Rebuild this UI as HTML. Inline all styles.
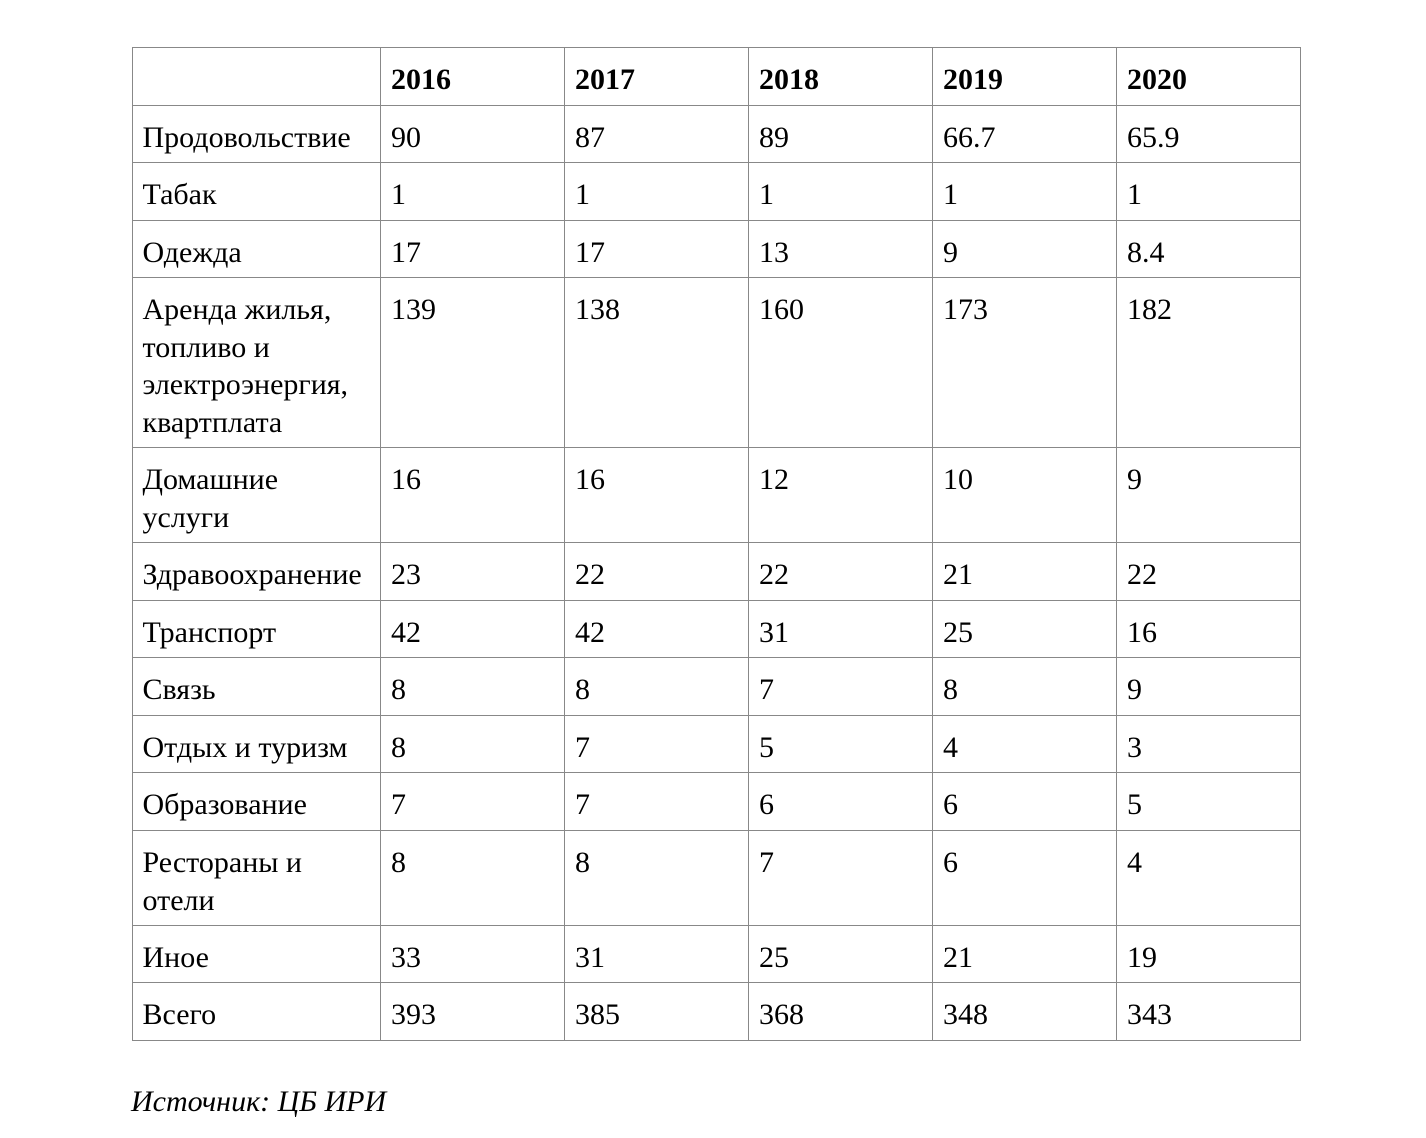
<!DOCTYPE html>
<html>
<head>
<meta charset="utf-8">
<style>
  html, body { margin:0; padding:0; background:#fff; }
  body { width:1426px; height:1138px; position:relative; overflow:hidden;
         font-family:"Liberation Serif","Noto Serif CJK SC",serif; color:#000; }
  .h { position:absolute; height:1px; background:#888; left:132px; width:1169px; }
  .v { position:absolute; width:1px; background:#888; top:47px; height:994px; }
  .t { position:absolute; font-size:30px; line-height:37.7px; white-space:nowrap; margin-top:2px; }
  .b { font-weight:bold; }
  .cap { position:absolute; left:131px; top:1083px; font-size:30px; line-height:37.7px; font-style:italic; white-space:nowrap; }
</style>
</head>
<body>
<!-- horizontal lines -->
<div class="h" style="top:47px"></div>
<div class="h" style="top:105px"></div>
<div class="h" style="top:162px"></div>
<div class="h" style="top:220px"></div>
<div class="h" style="top:277px"></div>
<div class="h" style="top:447px"></div>
<div class="h" style="top:542px"></div>
<div class="h" style="top:600px"></div>
<div class="h" style="top:657px"></div>
<div class="h" style="top:715px"></div>
<div class="h" style="top:772px"></div>
<div class="h" style="top:830px"></div>
<div class="h" style="top:925px"></div>
<div class="h" style="top:982px"></div>
<div class="h" style="top:1040px"></div>
<!-- vertical lines -->
<div class="v" style="left:132px"></div>
<div class="v" style="left:380px"></div>
<div class="v" style="left:564px"></div>
<div class="v" style="left:748px"></div>
<div class="v" style="left:932px"></div>
<div class="v" style="left:1116px"></div>
<div class="v" style="left:1300px"></div>

<!-- header -->
<div class="t b" style="left:391px;top:59px">2016</div>
<div class="t b" style="left:575px;top:59px">2017</div>
<div class="t b" style="left:759px;top:59px">2018</div>
<div class="t b" style="left:943px;top:59px">2019</div>
<div class="t b" style="left:1127px;top:59px">2020</div>

<!-- row 1 -->
<div class="t" style="left:142.5px;top:117px">Продовольствие</div>
<div class="t" style="left:391px;top:117px">90</div>
<div class="t" style="left:575px;top:117px">87</div>
<div class="t" style="left:759px;top:117px">89</div>
<div class="t" style="left:943px;top:117px">66.7</div>
<div class="t" style="left:1127px;top:117px">65.9</div>

<!-- row 2 -->
<div class="t" style="left:142.5px;top:174px">Табак</div>
<div class="t" style="left:391px;top:174px">1</div>
<div class="t" style="left:575px;top:174px">1</div>
<div class="t" style="left:759px;top:174px">1</div>
<div class="t" style="left:943px;top:174px">1</div>
<div class="t" style="left:1127px;top:174px">1</div>

<!-- row 3 -->
<div class="t" style="left:142.5px;top:232px">Одежда</div>
<div class="t" style="left:391px;top:232px">17</div>
<div class="t" style="left:575px;top:232px">17</div>
<div class="t" style="left:759px;top:232px">13</div>
<div class="t" style="left:943px;top:232px">9</div>
<div class="t" style="left:1127px;top:232px">8.4</div>

<!-- row 4 -->
<div class="t" style="left:142.5px;top:289px">Аренда жилья,<br>топливо и<br>электроэнергия,<br>квартплата</div>
<div class="t" style="left:391px;top:289px">139</div>
<div class="t" style="left:575px;top:289px">138</div>
<div class="t" style="left:759px;top:289px">160</div>
<div class="t" style="left:943px;top:289px">173</div>
<div class="t" style="left:1127px;top:289px">182</div>

<!-- row 5 -->
<div class="t" style="left:142.5px;top:459px">Домашние<br>услуги</div>
<div class="t" style="left:391px;top:459px">16</div>
<div class="t" style="left:575px;top:459px">16</div>
<div class="t" style="left:759px;top:459px">12</div>
<div class="t" style="left:943px;top:459px">10</div>
<div class="t" style="left:1127px;top:459px">9</div>

<!-- row 6 -->
<div class="t" style="left:142.5px;top:554px">Здравоохранение</div>
<div class="t" style="left:391px;top:554px">23</div>
<div class="t" style="left:575px;top:554px">22</div>
<div class="t" style="left:759px;top:554px">22</div>
<div class="t" style="left:943px;top:554px">21</div>
<div class="t" style="left:1127px;top:554px">22</div>

<!-- row 7 -->
<div class="t" style="left:142.5px;top:612px">Транспорт</div>
<div class="t" style="left:391px;top:612px">42</div>
<div class="t" style="left:575px;top:612px">42</div>
<div class="t" style="left:759px;top:612px">31</div>
<div class="t" style="left:943px;top:612px">25</div>
<div class="t" style="left:1127px;top:612px">16</div>

<!-- row 8 -->
<div class="t" style="left:142.5px;top:669px">Связь</div>
<div class="t" style="left:391px;top:669px">8</div>
<div class="t" style="left:575px;top:669px">8</div>
<div class="t" style="left:759px;top:669px">7</div>
<div class="t" style="left:943px;top:669px">8</div>
<div class="t" style="left:1127px;top:669px">9</div>

<!-- row 9 -->
<div class="t" style="left:142.5px;top:727px">Отдых и туризм</div>
<div class="t" style="left:391px;top:727px">8</div>
<div class="t" style="left:575px;top:727px">7</div>
<div class="t" style="left:759px;top:727px">5</div>
<div class="t" style="left:943px;top:727px">4</div>
<div class="t" style="left:1127px;top:727px">3</div>

<!-- row 10 -->
<div class="t" style="left:142.5px;top:784px">Образование</div>
<div class="t" style="left:391px;top:784px">7</div>
<div class="t" style="left:575px;top:784px">7</div>
<div class="t" style="left:759px;top:784px">6</div>
<div class="t" style="left:943px;top:784px">6</div>
<div class="t" style="left:1127px;top:784px">5</div>

<!-- row 11 -->
<div class="t" style="left:142.5px;top:842px">Рестораны и<br>отели</div>
<div class="t" style="left:391px;top:842px">8</div>
<div class="t" style="left:575px;top:842px">8</div>
<div class="t" style="left:759px;top:842px">7</div>
<div class="t" style="left:943px;top:842px">6</div>
<div class="t" style="left:1127px;top:842px">4</div>

<!-- row 12 -->
<div class="t" style="left:142.5px;top:937px">Иное</div>
<div class="t" style="left:391px;top:937px">33</div>
<div class="t" style="left:575px;top:937px">31</div>
<div class="t" style="left:759px;top:937px">25</div>
<div class="t" style="left:943px;top:937px">21</div>
<div class="t" style="left:1127px;top:937px">19</div>

<!-- row 13 -->
<div class="t" style="left:142.5px;top:994px">Всего</div>
<div class="t" style="left:391px;top:994px">393</div>
<div class="t" style="left:575px;top:994px">385</div>
<div class="t" style="left:759px;top:994px">368</div>
<div class="t" style="left:943px;top:994px">348</div>
<div class="t" style="left:1127px;top:994px">343</div>

<div class="cap">Источник: ЦБ ИРИ</div>
</body>
</html>
